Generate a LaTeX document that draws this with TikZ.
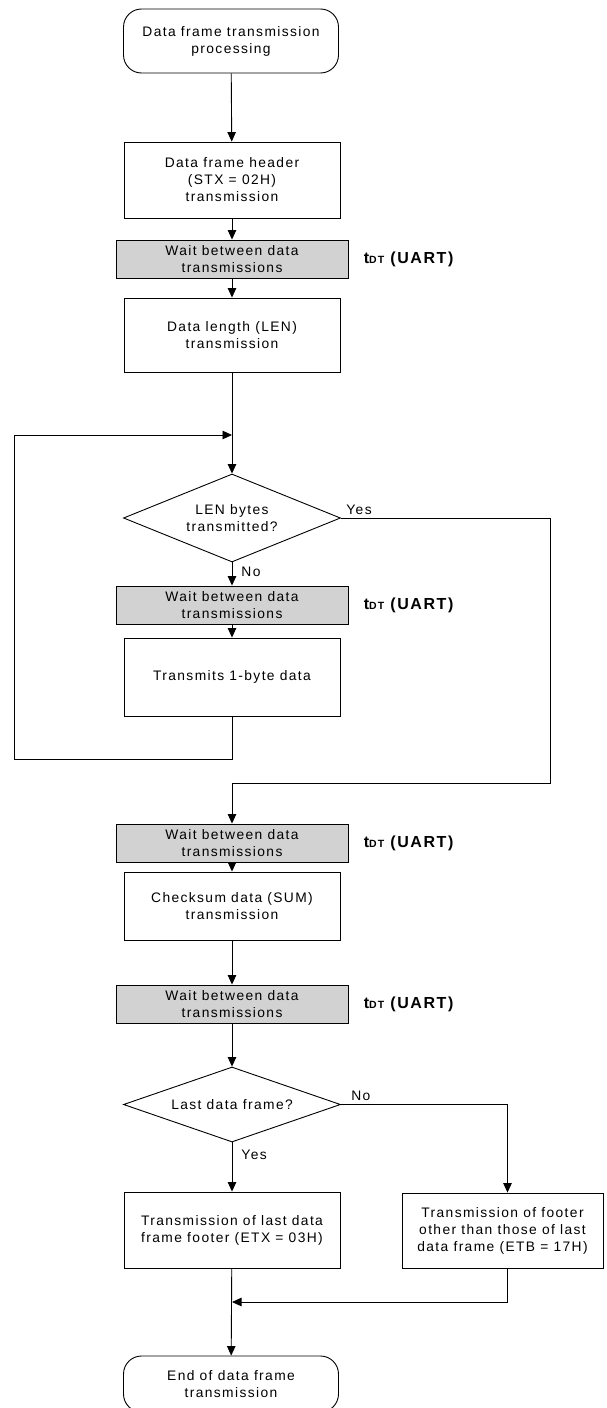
\documentclass[tikz,border=0pt]{standalone}
\usepackage{fontspec}
\setmainfont{Liberation Sans}[LetterSpace=10]
\usetikzlibrary{shapes.geometric,arrows.meta}
\newcommand\myfs{\fontsize{13.8}{17}\selectfont}
\newcommand\tdtfs{\fontsize{16}{17}\selectfont\bfseries}
\begin{document}
\begin{tikzpicture}[x=1pt,y=-1pt,
  line width=0.9pt,
  box/.style={draw, minimum width=216pt, align=center, inner sep=2pt, font=\myfs},
  waitbox/.style={draw, fill=gray!35, minimum width=232pt, minimum height=38pt, align=center, inner sep=1pt, font=\myfs},
  term/.style={draw, rounded corners=18pt, minimum width=215pt, align=center, inner sep=2pt, font=\myfs},
  dia/.style={draw, diamond, aspect=2.6, minimum width=217pt, minimum height=88pt, inner sep=0pt, align=center, font=\myfs},
  lbl/.style={inner sep=1pt, font=\myfs},
  tdt/.style={inner sep=0pt, font=\tdtfs, anchor=west},
  arr/.style={-{Triangle[width=8.5pt,length=9.5pt]}}
]
\useasboundingbox (0,0) rectangle (607,1408);

\node[term, minimum height=64pt] (start) at (231,41) {Data frame transmission\\processing};
\node[box, minimum height=76pt] (b1) at (232,180) {Data frame header\\(STX = 02H)\\transmission};
\node[waitbox] (g1) at (232,259) {Wait between data\\transmissions};
\node[box, minimum height=74pt] (b2) at (232,335) {Data length (LEN)\\transmission};
\coordinate (lj) at (232,435);
\node[dia] (d1) at (232,518) {LEN bytes\\transmitted?};
\node[waitbox] (g2) at (232,605) {Wait between data\\transmissions};
\node[box, minimum height=78pt] (b3) at (232,677) {Transmits 1-byte data};
\coordinate (ll) at (14,759);
\coordinate (rc) at (550,783);
\node[waitbox] (g3) at (232,843) {Wait between data\\transmissions};
\node[box, minimum height=68pt] (b4) at (232,906) {Checksum data (SUM)\\transmission};
\node[waitbox] (g4) at (232,1004) {Wait between data\\transmissions};
\node[dia, minimum height=75pt] (d2) at (232,1104.5) {Last data frame?};
\node[box, minimum height=76pt] (b5) at (232,1230) {Transmission of last data\\frame footer (ETX = 03H)};
\node[box, minimum width=201pt, minimum height=75pt] (b6) at (502.5,1230.5) {Transmission of footer\\other than those of last\\data frame (ETB = 17H)};
\coordinate (mj) at (232,1302);
\node[term, minimum height=56pt] (end) at (231,1384) {End of data frame\\transmission};

\node[tdt] (t1) at ([xshift=15pt]g1.east) {t{\fontsize{10.5}{10}\selectfont DT} (UART)};
\node[tdt] (t2) at ([xshift=15pt]g2.east) {t{\fontsize{10.5}{10}\selectfont DT} (UART)};
\node[tdt] (t3) at ([xshift=15pt]g3.east) {t{\fontsize{10.5}{10}\selectfont DT} (UART)};
\node[tdt] (t4) at ([xshift=15pt]g4.east) {t{\fontsize{10.5}{10}\selectfont DT} (UART)};

\node[lbl, anchor=south west] (yes1) at ([xshift=4pt,yshift=2pt]d1.east) {Yes};
\node[lbl, anchor=north west] (no1) at ([xshift=8pt,yshift=-3pt]d1.south) {No};
\node[lbl, anchor=south west] (no2) at ([xshift=9pt,yshift=2pt]d2.east) {No};
\node[lbl, anchor=north west] (yes2) at ([xshift=8pt,yshift=-6pt]d2.south) {Yes};

\draw[arr] (start) -- (b1);
\draw[arr] (b1) -- (g1);
\draw[arr] (g1) -- (b2);
\draw[arr] (b2) -- (d1);
\draw[arr] (d1) -- (g2);
\draw[arr] (g2) -- (b3);
\draw[arr] (b3.south) |- (ll) |- (lj);
\draw[arr] (d1.east) -| (rc) -| (g3.north);
\draw[arr] (g3) -- (b4);
\draw[arr] (b4) -- (g4);
\draw[arr] (g4) -- (d2);
\draw[arr] (d2) -- (b5);
\draw[arr] (d2.east) -| ([xshift=5pt]b6.north);
\draw[arr] ([xshift=5pt]b6.south) |- (mj);
\draw[arr] (b5) -- (end);
\end{tikzpicture}
\end{document}
